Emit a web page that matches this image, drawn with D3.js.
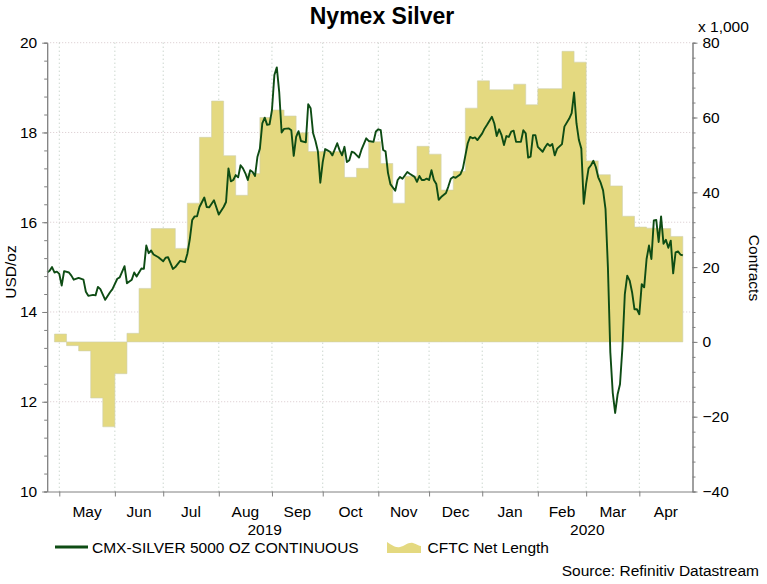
<!DOCTYPE html>
<html>
<head>
<meta charset="utf-8">
<script src="https://cdn.jsdelivr.net/npm/d3@7"></script>
<style>
  body { margin: 0; background: #fff; }
  text { font-family: Arial, "Liberation Sans", sans-serif; fill: #000; }
</style>
</head>
<body>
<div id="chart-area"></div>
<script>
// silver price, USD/oz (daily, business days)
const priceDates = [
  "2019-04-24","2019-04-25","2019-04-26","2019-04-29","2019-04-30","2019-05-01","2019-05-02","2019-05-03",
  "2019-05-07","2019-05-08","2019-05-09","2019-05-13","2019-05-15","2019-05-16","2019-05-17","2019-05-21",
  "2019-05-22","2019-05-23","2019-05-24","2019-05-28","2019-05-30","2019-05-31","2019-06-04","2019-06-05",
  "2019-06-07","2019-06-10","2019-06-12","2019-06-13","2019-06-14","2019-06-18","2019-06-19","2019-06-20",
  "2019-06-21","2019-06-24","2019-06-25","2019-06-27","2019-07-01","2019-07-02","2019-07-03","2019-07-05",
  "2019-07-08","2019-07-10","2019-07-12","2019-07-15","2019-07-16","2019-07-17","2019-07-18","2019-07-19",
  "2019-07-22","2019-07-24","2019-07-25","2019-07-26","2019-07-30","2019-08-01","2019-08-05","2019-08-06",
  "2019-08-07","2019-08-08","2019-08-09","2019-08-12","2019-08-13","2019-08-14","2019-08-15","2019-08-16",
  "2019-08-19","2019-08-20","2019-08-21","2019-08-22","2019-08-23","2019-08-26","2019-08-27","2019-08-28",
  "2019-08-29","2019-08-30","2019-09-02","2019-09-03","2019-09-04","2019-09-05","2019-09-06","2019-09-09",
  "2019-09-11","2019-09-12","2019-09-13","2019-09-16","2019-09-17","2019-09-18","2019-09-20","2019-09-23",
  "2019-09-24","2019-09-25","2019-09-26","2019-09-27","2019-09-30","2019-10-01","2019-10-02","2019-10-03",
  "2019-10-04","2019-10-07","2019-10-09","2019-10-10","2019-10-11","2019-10-14","2019-10-15","2019-10-16",
  "2019-10-17","2019-10-18","2019-10-22","2019-10-23","2019-10-25","2019-10-28","2019-10-30","2019-10-31",
  "2019-11-01","2019-11-04","2019-11-05","2019-11-06","2019-11-07","2019-11-08","2019-11-12","2019-11-13",
  "2019-11-14","2019-11-15","2019-11-19","2019-11-20","2019-11-22","2019-11-25","2019-11-26","2019-11-27",
  "2019-11-28","2019-11-29","2019-12-02","2019-12-03","2019-12-04","2019-12-05","2019-12-06","2019-12-09",
  "2019-12-11","2019-12-12","2019-12-13","2019-12-16","2019-12-17","2019-12-19","2019-12-20","2019-12-24",
  "2019-12-25","2019-12-26","2019-12-27","2019-12-30","2020-01-01","2020-01-02","2020-01-03","2020-01-07",
  "2020-01-08","2020-01-09","2020-01-10","2020-01-13","2020-01-14","2020-01-15","2020-01-16","2020-01-17",
  "2020-01-20","2020-01-21","2020-01-23","2020-01-24","2020-01-27","2020-01-28","2020-01-29","2020-01-30",
  "2020-01-31","2020-02-03","2020-02-05","2020-02-06","2020-02-07","2020-02-10","2020-02-11","2020-02-12",
  "2020-02-13","2020-02-17","2020-02-18","2020-02-20","2020-02-21","2020-02-24","2020-02-25","2020-02-26",
  "2020-02-27","2020-02-28","2020-03-02","2020-03-03","2020-03-04","2020-03-05","2020-03-06","2020-03-09",
  "2020-03-10","2020-03-11","2020-03-12","2020-03-13","2020-03-16","2020-03-17","2020-03-18","2020-03-19",
  "2020-03-20","2020-03-23","2020-03-24","2020-03-25","2020-03-26","2020-03-27","2020-03-30","2020-03-31",
  "2020-04-01","2020-04-02","2020-04-03","2020-04-06","2020-04-07","2020-04-08","2020-04-09","2020-04-10",
  "2020-04-13","2020-04-14","2020-04-15","2020-04-16","2020-04-17","2020-04-20","2020-04-21","2020-04-22",
  "2020-04-23","2020-04-24","2020-04-27"
];
const priceValues = [
  14.88,14.92,15.00,14.88,14.90,14.85,14.59,14.91,
  14.88,14.81,14.72,14.76,14.72,14.45,14.36,14.38,
  14.37,14.56,14.51,14.27,14.44,14.51,14.74,14.77,
  15.02,14.64,14.72,14.88,14.79,14.97,14.96,15.48,
  15.31,15.37,15.28,15.22,15.13,15.21,15.22,14.96,
  15.00,15.14,15.11,15.30,15.62,16.05,16.13,16.13,
  16.34,16.55,16.34,16.33,16.49,16.17,16.34,16.45,
  17.20,16.91,16.94,17.05,17.00,17.27,17.20,17.09,
  16.94,17.16,17.12,17.03,17.46,17.64,18.20,18.33,
  18.17,18.18,18.50,19.28,19.45,18.90,18.00,18.08,
  18.09,18.05,17.48,17.90,18.03,17.81,17.78,18.63,
  18.54,17.99,17.81,17.58,16.88,17.34,17.63,17.60,
  17.57,17.49,17.76,17.60,17.49,17.68,17.34,17.38,
  17.57,17.55,17.44,17.61,17.87,17.81,17.79,18.02,
  18.07,18.05,17.61,17.58,17.10,16.85,16.70,16.94,
  17.01,16.97,17.12,17.08,17.01,16.90,17.03,16.94,
  16.94,16.97,16.94,17.16,16.94,16.85,16.50,16.56,
  16.65,16.80,16.97,17.01,16.99,17.07,17.20,17.76,
  17.90,17.87,17.89,17.83,17.98,18.09,18.17,18.35,
  18.20,17.92,18.07,17.94,17.72,17.92,17.90,18.02,
  18.04,17.79,17.79,18.05,17.98,17.44,17.46,17.94,
  17.94,17.68,17.57,17.67,17.75,17.70,17.74,17.49,
  17.64,17.74,18.13,18.31,18.43,18.89,18.20,17.83,
  17.64,16.41,16.86,17.20,17.27,17.37,17.23,17.00,
  16.88,16.71,16.30,15.00,13.10,12.20,11.75,12.16,
  12.39,13.20,14.40,14.81,14.70,14.44,14.06,14.06,
  13.95,14.62,14.55,15.18,15.48,15.18,16.04,16.05,
  15.56,16.13,15.52,15.61,15.43,15.59,14.86,15.33,
  15.35,15.28,15.26
];

// CFTC net length, thousands of contracts (weekly)
const cftcDates = [
  "2019-04-29","2019-05-06","2019-05-13","2019-05-20","2019-05-27","2019-06-03","2019-06-10","2019-06-17",
  "2019-06-24","2019-07-01","2019-07-08","2019-07-15","2019-07-22","2019-07-29","2019-08-05","2019-08-12",
  "2019-08-19","2019-08-26","2019-09-02","2019-09-09","2019-09-16","2019-09-23","2019-09-30","2019-10-07",
  "2019-10-14","2019-10-21","2019-10-28","2019-11-04","2019-11-11","2019-11-18","2019-11-25","2019-12-02",
  "2019-12-09","2019-12-16","2019-12-23","2019-12-30","2020-01-06","2020-01-13","2020-01-20","2020-01-27",
  "2020-02-03","2020-02-10","2020-02-17","2020-02-24","2020-03-02","2020-03-09","2020-03-16","2020-03-23",
  "2020-03-30","2020-04-06","2020-04-13","2020-04-20"
];
const cftcValues = [
  2.1,-1.0,-2.4,-15.0,-22.7,-8.5,2.3,14.3,
  30.3,30.3,25.0,37.1,54.7,64.4,49.8,39.2,
  45.0,60.0,62.0,60.4,55.9,50.9,50.9,50.9,
  44.0,46.4,53.5,47.7,37.1,44.3,52.3,50.2,
  40.6,45.6,62.5,69.8,67.4,67.4,68.9,63.4,
  67.7,67.7,77.7,74.8,48.4,44.7,41.7,33.6,
  30.7,30.4,30.3,28.2
];

const monthLabels = ["May","Jun","Jul","Aug","Sep","Oct","Nov","Dec","Jan","Feb","Mar","Apr"];
const monthStarts = ["2019-05-01","2019-06-01","2019-07-01","2019-08-01","2019-09-01","2019-10-01",
  "2019-11-01","2019-12-01","2020-01-01","2020-02-01","2020-03-01","2020-04-01"];
const yearLabels = ["2019","2020"];
const leftTicks = [10,12,14,16,18,20];
const rightTicks = [-40,-20,0,20,40,60,80];

const drawChart = () => {
  const parse = d3.timeParse("%Y-%m-%d");
  const plot = { left: 47.2, right: 692.5, top: 42.7, bottom: 491.5 };
  const fontSize = "15.5px";

  const svg = d3.select("#chart-area").append("svg")
    .attr("width", 767)
    .attr("height", 584);

  // business-day axis
  const weekdays = d3.timeDay.range(parse("2019-04-24"), parse("2020-05-01"))
    .filter(d => d.getDay() % 6 !== 0);
  const dayIndex = new Map(weekdays.map((d, i) => [+d, i]));
  const firstWeekday = date => dayIndex.get(+weekdays.find(d => d >= date));

  const x = d3.scaleLinear().domain([0, weekdays.length]).range([plot.left, plot.right]);
  const xDate = d => x(dayIndex.get(+d));
  const yL = d3.scaleLinear().domain([10, 20]).range([plot.bottom, plot.top]);
  const yR = d3.scaleLinear().domain([-40, 80]).range([plot.bottom, plot.top]);

  const monthIdx = monthStarts.map(m => firstWeekday(parse(m)));
  const areaFill = "#e4d980";

  // grid
  const grid = svg.append("g");
  grid.selectAll(".hgrid").data(leftTicks.filter(t => t > 10)).enter()
    .append("line")
    .attr("x1", plot.left).attr("x2", plot.right)
    .attr("y1", d => yL(d)).attr("y2", d => yL(d))
    .attr("stroke", "#d8c8cc").attr("stroke-dasharray", "1,2");
  grid.selectAll(".vgrid").data(monthIdx).enter()
    .append("line")
    .attr("x1", d => x(d)).attr("x2", d => x(d))
    .attr("y1", plot.top).attr("y2", plot.bottom)
    .attr("stroke", "#b4c4b8").attr("stroke-dasharray", "1,3");

  // CFTC area (step)
  const cftc = cftcDates.map((d, i) => ({ date: parse(d), value: cftcValues[i] }));
  const last = cftc[cftc.length - 1];
  cftc.push({ date: d3.timeDay.offset(last.date, 7), value: last.value });

  const area = d3.area()
    .x(d => xDate(d.date))
    .y0(yR(0))
    .y1(d => yR(d.value))
    .curve(d3.curveStepAfter);

  svg.append("path")
    .datum(cftc)
    .attr("d", area)
    .attr("fill", areaFill)
    .attr("stroke", "#cfd0ae")
    .attr("stroke-width", 0.6);

  // price line
  const prices = priceDates.map((d, i) => ({ date: parse(d), value: priceValues[i] }));
  const line = d3.line()
    .x(d => xDate(d.date))
    .y(d => yL(d.value));

  svg.append("path")
    .datum(prices)
    .attr("d", line)
    .attr("fill", "none")
    .attr("stroke", "#0e4c14")
    .attr("stroke-width", 1.9)
    .attr("stroke-linejoin", "round");

  // axes
  const styleAxis = g => {
    g.selectAll(".domain").attr("stroke", "#808080");
    g.selectAll(".tick line").attr("stroke", "#808080");
    g.selectAll(".tick text").style("font-size", fontSize)
      .style("font-family", "Arial, 'Liberation Sans', sans-serif").attr("fill", "#000");
  };

  svg.append("g")
    .attr("transform", `translate(${plot.left},0)`)
    .call(d3.axisLeft(yL).tickValues(d3.range(10, 20.01, 0.4)).tickSize(3).tickFormat(""))
    .call(styleAxis);
  svg.append("g")
    .attr("transform", `translate(${plot.left},0)`)
    .call(d3.axisLeft(yL).tickValues(leftTicks).tickSize(5).tickPadding(5).tickSizeOuter(0))
    .call(styleAxis);

  svg.append("g")
    .attr("transform", `translate(${plot.right},0)`)
    .call(d3.axisRight(yR).tickValues(d3.range(-40, 80.01, 4)).tickSize(3).tickFormat(""))
    .call(styleAxis);
  svg.append("g")
    .attr("transform", `translate(${plot.right},0)`)
    .call(d3.axisRight(yR).tickValues(rightTicks).tickSize(5).tickPadding(5).tickSizeOuter(0))
    .call(styleAxis);

  svg.append("g")
    .attr("transform", `translate(0,${plot.bottom})`)
    .call(d3.axisBottom(x).tickValues(monthIdx).tickFormat("").tickSize(5).tickSizeOuter(0))
    .call(styleAxis);

  // month + year labels
  const bounds = monthIdx.concat([weekdays.length]);
  svg.selectAll(".month").data(monthLabels).enter()
    .append("text")
    .attr("x", (d, i) => (x(bounds[i]) + x(bounds[i + 1])) / 2)
    .attr("y", 516.5)
    .attr("text-anchor", "middle")
    .style("font-size", fontSize)
    .text(d => d);

  const janIdx = monthIdx[monthLabels.indexOf("Jan")];
  const yearBounds = [[0, janIdx], [janIdx, weekdays.length]];
  svg.selectAll(".year").data(yearLabels).enter()
    .append("text")
    .attr("x", (d, i) => (x(yearBounds[i][0]) + x(yearBounds[i][1])) / 2)
    .attr("y", 535)
    .attr("text-anchor", "middle")
    .style("font-size", fontSize)
    .text(d => d);

  // titles
  svg.append("text")
    .attr("x", 382).attr("y", 24)
    .attr("text-anchor", "middle")
    .style("font-size", "23px").style("font-weight", "bold")
    .text("Nymex Silver");

  svg.append("text")
    .attr("x", 698).attr("y", 31.5)
    .style("font-size", fontSize)
    .text("x 1,000");

  svg.append("text")
    .attr("transform", "translate(16,272) rotate(-90)")
    .attr("text-anchor", "middle")
    .style("font-size", fontSize)
    .text("USD/oz");

  svg.append("text")
    .attr("transform", "translate(749,268) rotate(90)")
    .attr("text-anchor", "middle")
    .style("font-size", fontSize)
    .text("Contracts");

  // legend
  const legend = svg.append("g");
  legend.append("line")
    .attr("x1", 55).attr("x2", 88).attr("y1", 547).attr("y2", 547)
    .attr("stroke", "#0e4c14").attr("stroke-width", 3);
  legend.append("text")
    .attr("x", 92).attr("y", 553)
    .style("font-size", fontSize)
    .text("CMX-SILVER 5000 OZ CONTINUOUS");
  legend.append("path")
    .attr("d", "M387,553L387,542C392,545 395,548 400,547C405,546 408,542 413,543C417,544 419,546 421,546L421,553Z")
    .attr("fill", areaFill);
  legend.append("text")
    .attr("x", 427.5).attr("y", 553)
    .style("font-size", fontSize)
    .text("CFTC Net Length");

  svg.append("text")
    .attr("x", 759).attr("y", 576)
    .attr("text-anchor", "end")
    .style("font-size", fontSize)
    .text("Source: Refinitiv Datastream");
};

window.onload = drawChart;
</script>
</body>
</html>
